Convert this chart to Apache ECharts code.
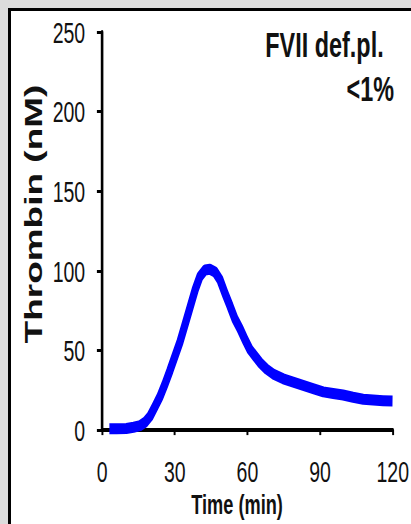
<!DOCTYPE html>
<html>
<head>
<meta charset="utf-8">
<script src="https://cdn.jsdelivr.net/npm/echarts@6/dist/echarts.min.js"></script>
<style>
  html, body { margin: 0; padding: 0; width: 411px; height: 524px; overflow: hidden; background: #dcdcdc; }
  .frame { position: absolute; left: 8px; top: 8px; width: 420px; height: 540px; border: 3px solid #000; background: #fff; }
  /* the source picture is squeezed sideways, so the whole chart is drawn wide and scaled down */
  #chart { position: absolute; left: 0; top: 0; width: 632px; height: 524px; transform: scaleX(0.6503); transform-origin: 0 0; }
</style>
</head>
<body>
<div class="frame"></div>
<div id="chart"></div>
<script>
const timeMin = [3, 6, 10, 13, 15.7, 17.8, 19.8, 21.9, 23.9, 26, 28, 30.1, 32.2, 34.2, 36.3, 38.4, 40.4, 42.5, 44.5, 46.6, 48.7, 50.7, 52.8, 54.8, 56.9, 59, 61, 63.1, 65.2, 67.9, 70.6, 74.8, 78.9, 83, 87.1, 91.3, 95.4, 99.5, 103.6, 107.8, 111.9, 116, 119.9]
const thrombin = [0.8, 0.8, 1, 1.8, 2.8, 5, 8.7, 14.9, 21, 29, 37.3, 46.5, 55.6, 66, 77, 88, 96.5, 100.5, 101, 99.3, 94.3, 86, 78, 69.9, 63.8, 56.8, 50.7, 46.5, 42.4, 38.3, 35.3, 32.2, 30.1, 28.1, 26.1, 24, 23, 22, 20.6, 19.4, 18.9, 18.5, 18.3]
const xTicks = [0, 30, 60, 90, 120]
const yTicks = [0, 50, 100, 150, 200, 250]

const chart = echarts.init(document.getElementById('chart'), null, { renderer: 'svg' })

const labelFont = { fontFamily: 'Liberation Sans, Arial, sans-serif', color: '#111', fontSize: 30 }

chart.setOption({
  animation: false,
  title: [
    {
      text: 'FVII def.pl.',
      right: 37,
      top: 22,
      textStyle: { fontFamily: 'Liberation Sans, Arial, sans-serif', fontSize: 36, fontWeight: 'bold', color: '#111' }
    },
    {
      text: '<1%',
      right: 21,
      top: 66,
      textStyle: { fontFamily: 'Liberation Sans, Arial, sans-serif', fontSize: 36, fontWeight: 'bold', color: '#111' }
    }
  ],
  grid: { left: 157, right: 27, top: 32, bottom: 83, containLabel: false },
  xAxis: {
    type: 'value',
    min: xTicks[0],
    max: xTicks[xTicks.length - 1],
    interval: 30,
    name: 'Time (min)',
    nameLocation: 'middle',
    nameGap: 47,
    nameTextStyle: { fontFamily: 'Liberation Sans, Arial, sans-serif', fontSize: 28, fontWeight: 'bold', color: '#111', padding: [0, 32, 0, 0] },
    axisLine: { lineStyle: { color: '#000', width: 4 } },
    axisTick: { show: true, length: 5, lineStyle: { color: '#000', width: 3 } },
    axisLabel: { ...labelFont, margin: 26 },
    splitLine: { show: false }
  },
  yAxis: {
    type: 'value',
    min: yTicks[0],
    max: yTicks[yTicks.length - 1],
    interval: 50,
    name: 'Thrombin (nM)',
    nameLocation: 'middle',
    nameGap: 84,
    nameTextStyle: { fontFamily: 'Liberation Sans, Arial, sans-serif', fontSize: 37, fontWeight: 'bold', color: '#111', padding: [0, 0, 0, 34] },
    axisLine: { show: true, lineStyle: { color: '#000', width: 4 } },
    axisTick: { show: true, length: 8, lineStyle: { color: '#000', width: 3 } },
    axisLabel: { ...labelFont, margin: 26 },
    splitLine: { show: false }
  },
  series: [
    {
      type: 'line',
      data: timeMin.map((t, i) => [t, thrombin[i]]),
      showSymbol: false,
      lineStyle: { color: '#0000ff', width: 11, join: 'round', cap: 'butt' }
    }
  ]
})
</script>
</body>
</html>
